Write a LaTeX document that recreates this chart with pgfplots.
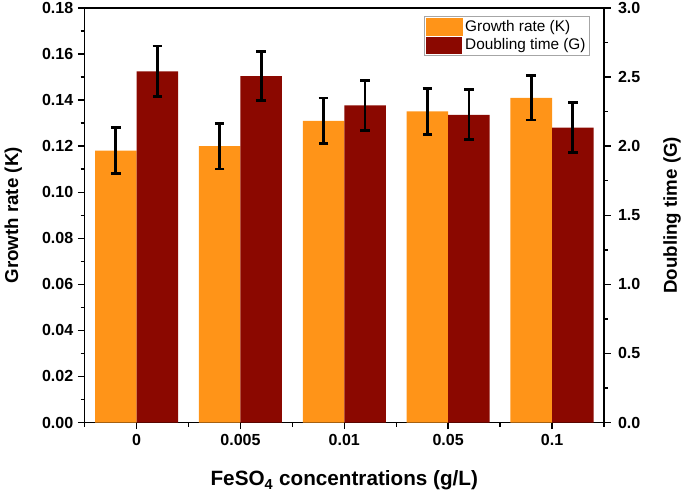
\documentclass[border=0pt]{standalone}
\usepackage{pgfplots}
\pgfplotsset{compat=1.18}
\usepackage{fontspec}
\setmainfont{Liberation Sans}
\definecolor{korange}{RGB}{255,148,24}
\definecolor{gred}{RGB}{139,8,0}

\begin{document}
\begin{tikzpicture}
\pgfplotsset{
  common/.style={
    scale only axis, width=389pt, height=310.5pt,
    xmin=-0.5, xmax=4.5,
    tick align=outside,
    major tick length=5pt, minor tick length=3pt,
    every tick/.style={black, line width=1.1pt},
    axis line style={line width=1.1pt},
    /pgf/number format/assume math mode=true,
    tick label style={font=\fontsize{12}{14}\selectfont\bfseries},
    label style={font=\fontsize{14}{17}\selectfont\bfseries},
  },
}
% growth rate, left axis
\begin{axis}[common, name=main,
  ymin=0, ymax=0.18, ytick={0,0.02,...,0.18},
  minor y tick num=1,
  ytick pos=left, xtick pos=bottom,
  xtick={0,1,2,3,4}, xticklabels={0,0.005,0.01,0.05,0.1},
  minor xtick={-0.5,0.5,1.5,2.5,3.5,4.5},
  yticklabel style={/pgf/number format/fixed, /pgf/number format/fixed zerofill, /pgf/number format/precision=2},
  xlabel={FeSO\textsubscript{4} concentrations (g/L)},
  xlabel style={font=\fontsize{15.5}{18}\selectfont\bfseries,
    at={([yshift=-47.4pt]rel axis cs:0.5,0)}, anchor=base},
  ylabel={Growth rate (K)},
  ylabel style={at={([xshift=-53.5pt]rel axis cs:0,0.5)}, anchor=center},
]
\addplot[ybar, bar width=0.4, bar shift=0pt, fill=korange, draw=none,
  error bars/.cd, y dir=both, y explicit,
  error bar style={line width=2pt, black},
  error mark options={rotate=90, mark size=3.6pt, line width=2pt, black}]
coordinates {
  (-0.2,0.1181) +- (0,0.0099)
  (0.8,0.1200) +- (0,0.0099)
  (1.8,0.1310) +- (0,0.0099)
  (2.8,0.1351) +- (0,0.0099)
  (3.8,0.1410) +- (0,0.0097)
};
\end{axis}
% doubling time, right axis
\begin{axis}[common,
  axis y line*=right, axis x line=none,
  ymin=0, ymax=3, ytick={0,0.5,...,3},
  minor y tick num=1,
  yticklabel style={/pgf/number format/fixed, /pgf/number format/fixed zerofill, /pgf/number format/precision=1},
  yticklabel shift=2pt,
  ylabel={Doubling time (G)},
  ylabel style={at={([xshift=51.1pt]rel axis cs:1,0.5)}, anchor=center},
  legend style={at={(rel axis cs:0.973,0.981)}, anchor=north east,
    draw=gray!70, line width=0.6pt, font=\fontsize{11.5}{13.5}\selectfont,
    inner sep=1pt, row sep=0pt},
  legend cell align=left,
]
\addlegendimage{legend image code/.code={\fill[korange] (0pt,-6.5pt) rectangle (27pt,6.5pt);}}
\addlegendentry{Growth rate (K)}
\addplot[ybar, bar width=0.4, bar shift=0pt, fill=gred, draw=none,
  legend image code/.code={\fill[gred] (0pt,-6.5pt) rectangle (27pt,6.5pt);},
  error bars/.cd, y dir=both, y explicit,
  error bar style={line width=2pt, black},
  error mark options={rotate=90, mark size=3.6pt, line width=2pt, black}]
coordinates {
  (0.2,2.541) +- (0,0.183)
  (1.2,2.507) +- (0,0.178)
  (2.2,2.295) +- (0,0.180)
  (3.2,2.227) +- (0,0.181)
  (4.2,2.135) +- (0,0.180)
};
\addlegendentry{Doubling time (G)}
\end{axis}
% page frame with the reference's margins round the axis box
\pgfresetboundingbox
\path ([xshift=-63.4pt,yshift=-54.2pt]main.south west) rectangle ([xshift=60.7pt,yshift=6pt]main.north east);
\end{tikzpicture}
\end{document}
